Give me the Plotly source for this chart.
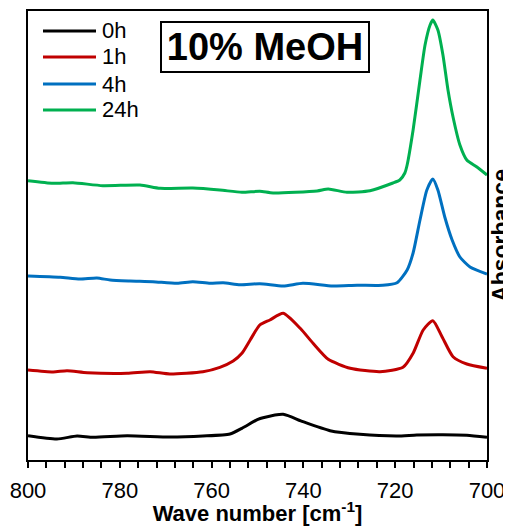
import plotly.graph_objects as go

# ---- data (wave number in cm^-1, absorbance in arbitrary offset units) ----
wn_0h = [800, 793.7, 789.3, 785.8, 778.4, 769.1, 761.9, 756.0, 753.4, 749.9, 748.8,
         744.4, 740.1, 734.2, 727.7, 719.6, 715.3, 709.6, 704.4, 700]
abs_0h = [0.243, 0.21, 0.24, 0.227, 0.243, 0.23, 0.24, 0.26, 0.317, 0.407, 0.423,
          0.457, 0.383, 0.293, 0.257, 0.24, 0.25, 0.253, 0.247, 0.227]

wn_1h = [800, 794.5, 791.5, 787.1, 778.4, 773.4, 769.1, 761.9, 758.2, 755.3, 753.4, 751.6,
         749.5, 747.3, 744.4, 740.7, 737.9, 734.6, 729.8, 723.3, 718.3, 716.1, 713.9, 711.8,
         709.8, 707.4, 704.4, 700]
abs_1h = [0.90, 0.88, 0.893, 0.873, 0.867, 0.883, 0.86, 0.883, 0.927, 0.99, 1.067, 1.20,
          1.35, 1.40, 1.467, 1.317, 1.167, 1.007, 0.917, 0.883, 0.927, 1.067, 1.30, 1.393,
          1.233, 1.033, 0.96, 0.917]

wn_4h = [800, 793.0, 788.7, 785.0, 782.1, 777.8, 772.8, 767.5, 764.1, 760.3, 757.5, 753.8,
         749.5, 744.4, 740.1, 733.6, 728.3, 722.7, 719.6, 717.4, 716.1, 714.6, 713.1, 711.8,
         710.7, 709.2, 707.6, 705.9, 703.7, 700]
abs_4h = [1.84, 1.827, 1.81, 1.82, 1.80, 1.79, 1.783, 1.767, 1.783, 1.767, 1.773, 1.753,
          1.763, 1.74, 1.767, 1.74, 1.747, 1.747, 1.773, 1.90, 2.07, 2.40, 2.70, 2.81,
          2.70, 2.43, 2.20, 2.03, 1.93, 1.86]

wn_24h = [800, 794.5, 790.2, 783.7, 775.6, 771.2, 764.1, 758.2, 753.4, 749.5, 746.6, 737.0,
          734.6, 730.5, 725.5, 720.5, 719.0, 717.9, 717.4, 716.1, 714.6, 713.5, 712.4, 711.8,
          710.7, 709.6, 708.5, 707.4, 705.9, 704.4, 702.2, 700]
abs_24h = [2.793, 2.767, 2.773, 2.743, 2.75, 2.717, 2.72, 2.70, 2.677, 2.687, 2.67, 2.69,
           2.71, 2.677, 2.693, 2.77, 2.80, 2.87, 2.95, 3.30, 3.80, 4.15, 4.35, 4.40,
           4.30, 4.05, 3.70, 3.43, 3.15, 3.00, 2.93, 2.85]

series_names = ["0h", "1h", "4h", "24h"]
series_colors = ["#000000", "#C00000", "#0070C0", "#00B050"]
x_ticks = [800, 780, 760, 740, 720, 700]
title_text = "10% MeOH"

FONT = "Liberation Sans, Arial, sans-serif"

# figure geometry (page has an 8px body margin); figure extends past the window on
# the right so the axis title can be cut by the window edge, as in the reference
W, H = 520, 518
ML, MR, MT, MB = 20, 41, 3, 66
PW, PH = W - ML - MR, H - MT - MB


def px_x(px):  # page pixel -> paper x
    return (px - 8 - ML) / PW


def px_y(py):  # page pixel -> paper y
    return 1 - (py - 8 - MT) / PH


fig = go.Figure()
for name, color, xs, ys in zip(series_names, series_colors,
                               [wn_0h, wn_1h, wn_4h, wn_24h],
                               [abs_0h, abs_1h, abs_4h, abs_24h]):
    fig.add_trace(go.Scatter(x=xs, y=ys, name=name, mode="lines", showlegend=False,
                             line=dict(color=color, width=3, shape="spline", smoothing=0.6)))

# manual legend
shapes = []
annotations = []
legend_rows = [31, 57, 84, 110]
for name, color, ry in zip(series_names, series_colors, legend_rows):
    shapes.append(dict(type="line", xref="paper", yref="paper",
                       x0=px_x(43), x1=px_x(96), y0=px_y(ry), y1=px_y(ry),
                       line=dict(color=color, width=3)))
    annotations.append(dict(text=name, xref="paper", yref="paper", x=px_x(100), y=px_y(ry),
                            xanchor="left", yanchor="middle", showarrow=False,
                            font=dict(size=22, family=FONT, color="black")))

annotations.append(dict(text="<b>" + title_text + "</b>", xref="paper", yref="paper",
                        x=px_x(265), y=px_y(47), xanchor="center", yanchor="middle",
                        showarrow=False, font=dict(size=38, family=FONT, color="black"),
                        width=200, height=42, borderpad=3,
                        bordercolor="black", borderwidth=2, bgcolor="white"))

fig.update_layout(
    width=W, height=H,
    margin=dict(l=ML, r=MR, t=MT, b=MB),
    paper_bgcolor="white", plot_bgcolor="white",
    font=dict(family=FONT, color="black"),
    showlegend=False,
    xaxis=dict(range=[800, 700], tickvals=x_ticks, ticks="outside", ticklen=6,
               tickwidth=2, tickcolor="black", showline=True, linewidth=2,
               linecolor="black", mirror=True, showgrid=False, zeroline=False,
               tickfont=dict(size=22, family=FONT), ticklabelstandoff=4,
               minor=dict(dtick=4, tick0=800, ticks="outside", ticklen=6, tickwidth=2,
                          tickcolor="black", showgrid=False),
               title=dict(text="<b>Wave number [cm<sup>-1</sup>]</b>",
                          font=dict(size=22, family=FONT), standoff=7),
               automargin=False),
    yaxis=dict(range=[0, 4.49], side="right", showticklabels=False, ticks="",
               showline=True, linewidth=2, linecolor="black", mirror=True,
               showgrid=False, zeroline=False,
               title=dict(text="<b>Absorbance</b>", font=dict(size=23, family=FONT),
                          standoff=5),
               automargin=False),
    shapes=shapes,
    annotations=annotations,
)

fig.write_html("out.html")
